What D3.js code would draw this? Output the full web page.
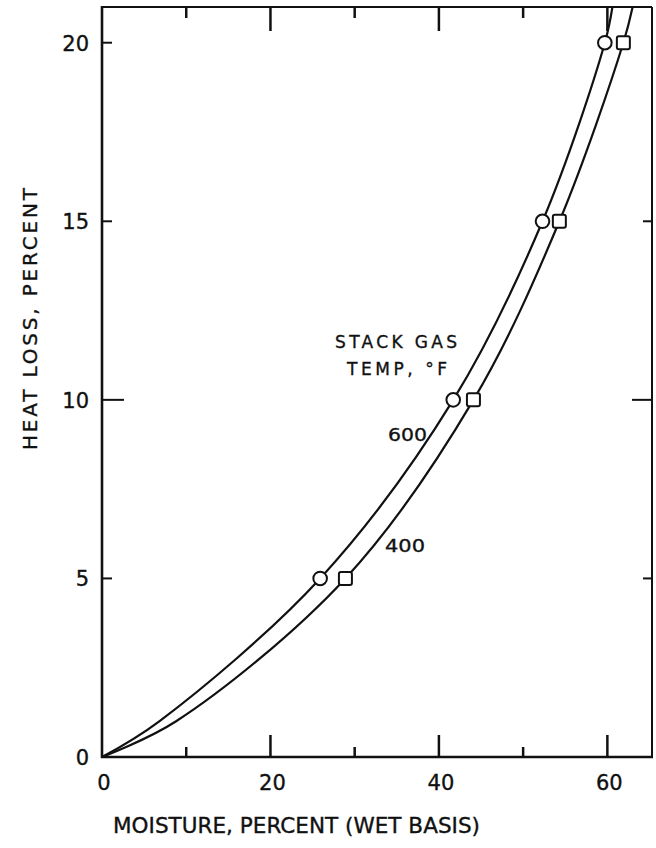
<!DOCTYPE html>
<html>
<head>
<meta charset="utf-8">
<script src="https://cdn.jsdelivr.net/npm/d3@7"></script>
<style>
  html, body { margin: 0; padding: 0; background: #fff; }
  svg { display: block; }
  text { font-family: "DejaVu Sans", "Liberation Sans", sans-serif; fill: #111; stroke: #111; stroke-width: 0.35; }
</style>
</head>
<body>
<svg id="chart" width="656" height="848"></svg>
<script>
// Heat loss (percent) against fuel moisture (percent, wet basis)
const curveHeat   = [0, 1, 5, 10, 15, 20, 21];
const moisture600 = [0, 6.8, 25.9, 41.7, 52.3, 59.7, 60.6];
const moisture400 = [0, 8.8, 28.9, 44.1, 54.3, 61.9, 63.0];
const markerHeat  = [5, 10, 15, 20];
const marker600   = [25.9, 41.7, 52.3, 59.7];
const marker400   = [28.9, 44.1, 54.3, 61.9];

const xTicks = [0, 20, 40, 60];
const xMinorTicks = [10, 30, 50];
const yTicks = [0, 5, 10, 15, 20];

const svg = d3.select("#chart");
const plotLeft = 102, plotRight = 652, plotTop = 7, plotBottom = 757;

const x = d3.scaleLinear().domain([0, 65.3]).range([plotLeft, plotRight]);
const y = d3.scaleLinear().domain([0, 21]).range([plotBottom, plotTop]);

const ink = "#111";

// clip for curves
svg.append("clipPath").attr("id", "plot")
  .append("rect").attr("x", plotLeft).attr("y", plotTop)
  .attr("width", plotRight - plotLeft).attr("height", plotBottom - plotTop);

// frame: heavy left/bottom axes, lighter top/right borders
svg.append("line").attr("x1", plotLeft).attr("x2", plotRight).attr("y1", plotTop).attr("y2", plotTop)
  .attr("stroke", ink).attr("stroke-width", 1.8);
svg.append("line").attr("x1", plotRight).attr("x2", plotRight).attr("y1", plotTop).attr("y2", plotBottom)
  .attr("stroke", ink).attr("stroke-width", 2);
svg.append("line").attr("x1", plotLeft).attr("x2", plotLeft).attr("y1", plotTop - 1).attr("y2", plotBottom + 1)
  .attr("stroke", ink).attr("stroke-width", 2.6);
svg.append("line").attr("x1", plotLeft - 1).attr("x2", plotRight + 1).attr("y1", plotBottom).attr("y2", plotBottom)
  .attr("stroke", ink).attr("stroke-width", 2.4);

// bottom ticks (inward)
const allX = xTicks.concat(xMinorTicks).filter(d => d > 0);
svg.append("g").selectAll("line").data(allX).join("line")
  .attr("x1", d => x(d)).attr("x2", d => x(d))
  .attr("y1", plotBottom).attr("y2", d => plotBottom - (xTicks.includes(d) ? 22 : 10))
  .attr("stroke", ink).attr("stroke-width", 2.5);

// top ticks (inward)
svg.append("g").selectAll("line").data(allX).join("line")
  .attr("x1", d => x(d)).attr("x2", d => x(d))
  .attr("y1", plotTop).attr("y2", d => plotTop + (xTicks.includes(d) ? 24 : 11))
  .attr("stroke", ink).attr("stroke-width", 2.5);

// left ticks (inward)
svg.append("g").selectAll("line").data(yTicks.filter(d => d > 0)).join("line")
  .attr("x1", plotLeft).attr("x2", d => plotLeft + (d === 10 ? 22 : 10))
  .attr("y1", d => y(d)).attr("y2", d => y(d))
  .attr("stroke", ink).attr("stroke-width", 2);

// right ticks (inward)
svg.append("g").selectAll("line").data([5, 10, 15]).join("line")
  .attr("x1", plotRight).attr("x2", d => plotRight - (d === 10 ? 20 : 9))
  .attr("y1", d => y(d)).attr("y2", d => y(d))
  .attr("stroke", ink).attr("stroke-width", 2);

// tick labels
svg.append("g").selectAll("text").data(xTicks).join("text")
  .attr("x", d => x(d) + 2).attr("y", 790)
  .attr("text-anchor", "middle")
  .attr("font-size", 21)
  .text(d => d);

svg.append("g").selectAll("text").data(yTicks).join("text")
  .attr("x", 89).attr("y", d => y(d) + 8)
  .attr("text-anchor", "end")
  .attr("font-size", 21)
  .text(d => d);

// axis titles
svg.append("text")
  .attr("x", 113).attr("y", 833)
  .attr("font-size", 21)
  .attr("textLength", 367)
  .attr("lengthAdjust", "spacingAndGlyphs")
  .text("MOISTURE, PERCENT  (WET BASIS)");

svg.append("text")
  .attr("transform", "translate(37,450) rotate(-90)")
  .attr("font-size", 20)
  .attr("textLength", 262)
  .attr("lengthAdjust", "spacing")
  .text("HEAT LOSS,  PERCENT");

// curves
const line = d3.line()
  .x(d => x(d[0])).y(d => y(d[1]))
  .curve(d3.curveCatmullRom.alpha(0.5));

const curves = [
  { name: "600", pts: moisture600.map((m, i) => [m, curveHeat[i]]) },
  { name: "400", pts: moisture400.map((m, i) => [m, curveHeat[i]]) }
];

svg.append("g").attr("clip-path", "url(#plot)")
  .selectAll("path").data(curves).join("path")
  .attr("d", d => line(d.pts))
  .attr("fill", "none").attr("stroke", ink).attr("stroke-width", 2.2);

// markers: circles for 600 °F, squares for 400 °F
svg.append("g").selectAll("circle").data(markerHeat.map((h, i) => [marker600[i], h])).join("circle")
  .attr("cx", d => x(d[0])).attr("cy", d => y(d[1])).attr("r", 6.8)
  .attr("fill", "#fff").attr("stroke", ink).attr("stroke-width", 2);

const sq = 13;
svg.append("g").selectAll("rect").data(markerHeat.map((h, i) => [marker400[i], h])).join("rect")
  .attr("x", d => x(d[0]) - sq / 2).attr("y", d => y(d[1]) - sq / 2)
  .attr("width", sq).attr("height", sq).attr("rx", 2)
  .attr("fill", "#fff").attr("stroke", ink).attr("stroke-width", 2);

// annotations
svg.append("text").attr("x", 335).attr("y", 348)
  .attr("font-size", 17).attr("textLength", 122).attr("lengthAdjust", "spacing")
  .text("STACK GAS");
svg.append("text").attr("x", 347).attr("y", 375)
  .attr("font-size", 17).attr("textLength", 100).attr("lengthAdjust", "spacing")
  .text("TEMP, °F");
svg.append("text").attr("x", 388).attr("y", 441)
  .attr("font-size", 18).attr("textLength", 39).attr("lengthAdjust", "spacingAndGlyphs")
  .text("600");
svg.append("text").attr("x", 385).attr("y", 552)
  .attr("font-size", 18).attr("textLength", 40).attr("lengthAdjust", "spacingAndGlyphs")
  .text("400");
</script>
</body>
</html>
